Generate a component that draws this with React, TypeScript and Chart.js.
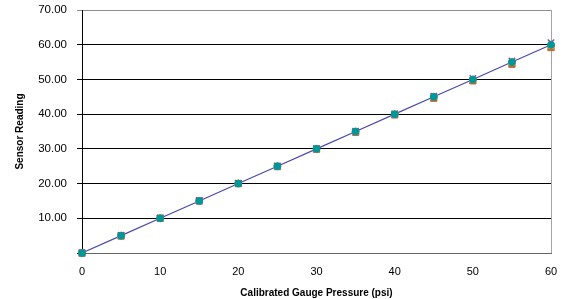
import React, { useEffect, useRef } from "react";
import { Chart, registerables } from "chart.js";

Chart.register(...registerables);

const pressures = [0, 5, 10, 15, 20, 25, 30, 35, 40, 45, 50, 55, 60];
const idealLine = [0, 5, 10, 15, 20, 25, 30, 35, 40, 45, 50, 55, 60];
const sensorA = [0, 5, 10, 15, 20, 25, 30, 35, 40, 45, 50, 55, 60];
const sensorB = [0, 4.95, 10, 15, 20, 25, 30, 34.9, 39.9, 44.8, 49.8, 54.8, 59.6];
const sensorC = [0, 5.1, 10.1, 15.1, 20.1, 25.1, 30.1, 35.1, 40.1, 45.2, 50.3, 55.3, 60.6];
const sensorD = [0, 4.9, 10, 15, 20, 24.9, 29.9, 34.8, 39.8, 44.6, 49.6, 54.4, 59.2];
const yTicks = [0, 10, 20, 30, 40, 50, 60, 70];

const pts = (ys: number[]) => pressures.map((x, i) => ({ x, y: ys[i] }));

export default function App() {
  const ref = useRef<HTMLCanvasElement>(null);
  useEffect(() => {
    if (!ref.current) return;
    const font = "'Liberation Sans', Arial, sans-serif";
    const chart = new Chart(ref.current, {
      type: "scatter",
      data: {
        datasets: [
          { label: "A", data: pts(sensorA), pointStyle: "circle", pointRadius: 3.5, backgroundColor: "#00979a", borderColor: "#00979a", borderWidth: 1, showLine: false, clip: false },
          { label: "B", data: pts(sensorB), pointStyle: "triangle", pointRadius: 4, backgroundColor: "#e8c020", borderColor: "#e8c020", borderWidth: 1, showLine: false, clip: false },
          { label: "C", data: pts(sensorC), pointStyle: "crossRot", pointRadius: 4.5, backgroundColor: "#c0407a", borderColor: "#c0407a", borderWidth: 1.5, showLine: false, clip: false },
          { label: "D", data: pts(sensorD), pointStyle: "rect", pointRadius: 4.5, backgroundColor: "#c06838", borderColor: "#c06838", borderWidth: 1, showLine: false, clip: false },
          { label: "Ideal", data: pts(idealLine), showLine: true, pointRadius: 0, borderColor: "#4848b0", borderWidth: 1.2, backgroundColor: "#4848b0", clip: false },
        ],
      },
      options: {
        animation: false,
        responsive: false,
        maintainAspectRatio: false,
        layout: { padding: { top: 10, right: 14, left: 0, bottom: 0 } },
        plugins: { legend: { display: false }, tooltip: { enabled: false }, title: { display: false } },
        scales: {
          x: {
            type: "linear",
            min: 0,
            max: 60,
            ticks: { stepSize: 10, color: "#000", font: { family: font, size: 11 }, padding: 12 },
            grid: {
              drawTicks: false,
              color: (c: any) => (c.tick && c.tick.value === 60 ? "#a0a4ac" : "rgba(0,0,0,0)"),
              lineWidth: 1,
            },
            border: { color: "#666", width: 1 },
            title: { display: true, text: "Calibrated Gauge Pressure (psi)", color: "#000", font: { family: font, size: 10, weight: "bold" }, padding: { top: 4, bottom: 0 } },
            afterFit: (s: any) => { s.height = 46; s.paddingLeft = 0; s.paddingRight = 0; },
          },
          y: {
            type: "linear",
            min: 0,
            max: 70,
            afterBuildTicks: (s: any) => { s.ticks = yTicks.map((v) => ({ value: v })); },
            ticks: {
              color: "#000",
              font: { family: font, size: 11.5 },
              padding: 10,
              callback: (v: any) => (Number(v) === 0 ? "" : Number(v).toFixed(2)),
            },
            grid: {
              tickLength: 5,
              color: (c: any) => (c.tick && c.tick.value === 70 ? "#8a8f99" : "#000"),
              lineWidth: 1,
            },
            border: { color: "#000", width: 1 },
            title: { display: true, text: "Sensor Reading", color: "#000", font: { family: font, size: 10, weight: "bold" }, padding: { top: 14, bottom: 0 } },
            afterFit: (s: any) => { s.width = 82; s.paddingTop = 0; s.paddingBottom = 0; },
          },
        },
      },
    });
    return () => chart.destroy();
  }, []);
  return (
    <div style={{ position: "fixed", left: 0, top: 0, width: 565, height: 299, background: "#fff" }}>
      <canvas ref={ref} width={565} height={299} style={{ width: 565, height: 299 }} />
    </div>
  );
}
